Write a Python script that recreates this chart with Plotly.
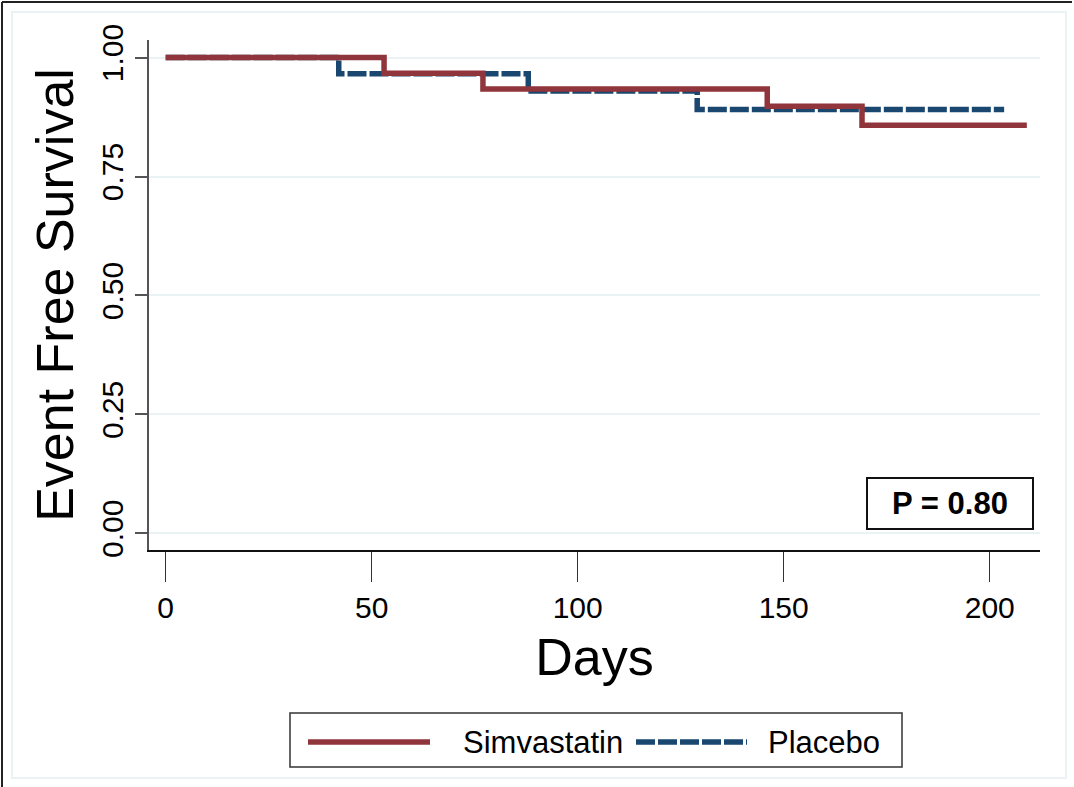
import plotly.graph_objects as go

# ---- data ----
simva_days = [0, 53, 77, 146, 169, 209]
simva_surv = [1.00, 0.967, 0.934, 0.898, 0.858, 0.858]
placebo_days = [0, 42, 88, 129, 203.5]
placebo_surv = [1.00, 0.966, 0.930, 0.891, 0.891]
x_ticks = [0, 50, 100, 150, 200]
y_ticks = [0.00, 0.25, 0.50, 0.75, 1.00]
y_tick_labels = ["0.00", "0.25", "0.50", "0.75", "1.00"]
series_names = ["Simvastatin", "Placebo"]
p_label = "P = 0.80"

RED = "#90353b"
BLUE = "#1a476f"
GRID = "#eaf2f3"
FONT = "Liberation Sans, Arial, sans-serif"
DASH = "19px,3px"

W, H = 1074, 787
L, R, T, B = 149, 1040, 40, 550


def px(xp):
    return (xp - L) / (R - L)


def py(yp):
    return (B - yp) / (B - T)


fig = go.Figure()
fig.add_trace(go.Scatter(x=placebo_days, y=placebo_surv, mode="lines", line_shape="hv",
                         name=series_names[1],
                         line=dict(color=BLUE, width=5.5, dash=DASH), showlegend=False))
fig.add_trace(go.Scatter(x=simva_days, y=simva_surv, mode="lines", line_shape="hv",
                         name=series_names[0],
                         line=dict(color=RED, width=5.5), showlegend=False))

shapes = []
# outer frame (left and top edges visible in reference)
shapes.append(dict(type="line", xref="paper", yref="paper", x0=px(2), x1=px(1072), y0=py(2), y1=py(2),
                   line=dict(color="#222", width=2)))
shapes.append(dict(type="line", xref="paper", yref="paper", x0=px(2), x1=px(2), y0=py(2), y1=py(787),
                   line=dict(color="#222", width=2)))
# inner light region border
shapes.append(dict(type="rect", xref="paper", yref="paper", x0=px(12), x1=px(1066), y0=py(12), y1=py(778),
                   line=dict(color=GRID, width=2), layer="below"))
# legend box
shapes.append(dict(type="rect", xref="paper", yref="paper", x0=px(290), x1=px(902), y0=py(713), y1=py(767),
                   line=dict(color="#333", width=1.5), fillcolor="white"))
shapes.append(dict(type="line", xref="paper", yref="paper", x0=px(308), x1=px(430), y0=py(742), y1=py(742),
                   line=dict(color=RED, width=5.5)))
shapes.append(dict(type="line", xref="paper", yref="paper", x0=px(636), x1=px(747), y0=py(742), y1=py(742),
                   line=dict(color=BLUE, width=5.5, dash=DASH)))

annotations = [
    dict(text=series_names[0], xref="paper", yref="paper", x=px(461), y=py(742), xanchor="left",
         yanchor="middle", showarrow=False, font=dict(family=FONT, size=31, color="black")),
    dict(text=series_names[1], xref="paper", yref="paper", x=px(766), y=py(742), xanchor="left",
         yanchor="middle", showarrow=False, font=dict(family=FONT, size=31, color="black")),
    dict(text="<b>" + p_label + "</b>", xref="paper", yref="paper", x=px(950), y=py(503.5),
         xanchor="center", yanchor="middle", showarrow=False,
         font=dict(family=FONT, size=31, color="black"),
         bordercolor="#111", borderwidth=2, borderpad=3, bgcolor="white",
         width=158, height=43),
]

fig.update_layout(
    width=W, height=H,
    margin=dict(l=L, r=W - R, t=T, b=H - B, pad=0),
    paper_bgcolor="white", plot_bgcolor="white",
    font=dict(family=FONT, color="black"),
    shapes=shapes, annotations=annotations,
    showlegend=False,
    xaxis=dict(range=[-4.05, 212.2], tickvals=x_ticks, ticks="outside", ticklen=30, tickwidth=1,
               tickcolor="#333", showline=True, linecolor="#111", linewidth=2, showgrid=False,
               zeroline=False, tickfont=dict(size=30, family=FONT),
               title=dict(text="Days", font=dict(size=52, family=FONT), standoff=16)),
    yaxis=dict(range=[-0.035, 1.037], tickvals=y_ticks, ticktext=y_tick_labels, ticks="outside",
               ticklen=12, tickwidth=1.5, tickcolor="#555", tickangle=-90, showline=True,
               linecolor="#555", linewidth=2, showgrid=True, gridcolor=GRID, gridwidth=2,
               zeroline=False, tickfont=dict(size=30, family=FONT),
               title=dict(text="Event Free Survival", font=dict(size=52, family=FONT), standoff=6)),
)

fig.write_html("out.html")
